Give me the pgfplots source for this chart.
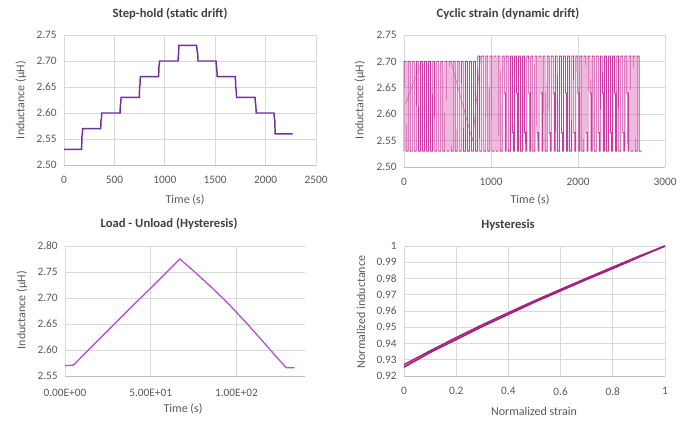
\documentclass[border=0pt]{standalone}
\usepackage{pgfplots}
\pgfplotsset{compat=1.18}
\usepackage{fontspec}
\setmainfont{Carlito}
\definecolor{stepc}{HTML}{7030A0}
\definecolor{cycc}{HTML}{CC3AA0}
\definecolor{loadc}{HTML}{B455D2}
\definecolor{hystc}{HTML}{A3217F}
\definecolor{gridc}{HTML}{D9D9D9}
\definecolor{axc}{HTML}{BFBFBF}
\definecolor{txt}{HTML}{595959}
\definecolor{ttl}{HTML}{404040}
\pgfplotsset{
  xlpanel/.style={
    scale only axis,
    anchor=south west,
    axis line style={draw=none},
    grid=major,
    grid style={gridc, line width=0.5pt},
    major tick length=0pt,
    tick label style={font=\fontsize{8.5}{10}\selectfont, text=txt},
    yticklabel style={xshift=-2pt},
    xticklabel style={yshift=-5pt},
    /pgf/number format/assume math mode=true,
    /pgf/number format/1000 sep={},
    clip=false,
  },
}
\begin{document}
\begin{tikzpicture}[x=1pt,y=1pt]
\useasboundingbox (0,0) rectangle (516.75,-318);
% ---------- Step-hold
\begin{axis}[xlpanel, at={(48pt,-123.75pt)}, width=189pt, height=97.5pt,
  xmin=0, xmax=2500, ymin=2.5, ymax=2.75,
  xtick={0,500,1000,1500,2000,2500},
  ytick={2.50,2.55,2.60,2.65,2.70,2.75},
  yticklabels={2.50,2.55,2.60,2.65,2.70,2.75}]
\draw[axc] (rel axis cs:0,0) -- (rel axis cs:1,0);
\addplot[stepc, line width=1.1pt, no marks] coordinates {
(0,2.530)(175,2.530)(178,2.555)(182,2.560)(185,2.570)(364,2.570)(367,2.585)(372,2.590)(375,2.600)
(556,2.600)(559,2.615)(563,2.620)(566,2.630)(747,2.630)(750,2.650)(754,2.655)(757,2.670)
(939,2.670)(942,2.690)(946,2.695)(949,2.700)(1131,2.700)(1134,2.710)(1137,2.715)(1140,2.730)
(1316,2.730)(1320,2.720)(1326,2.715)(1330,2.700)(1508,2.700)(1512,2.690)(1516,2.685)(1520,2.670)
(1700,2.670)(1704,2.650)(1708,2.645)(1712,2.630)(1895,2.630)(1899,2.620)(1903,2.615)(1907,2.600)
(2083,2.600)(2087,2.590)(2091,2.585)(2095,2.560)(2268,2.560)};
\end{axis}
% ---------- Cyclic strain
\begin{axis}[xlpanel, at={(303pt,-125.25pt)}, width=195.75pt, height=99pt,
  xmin=0, xmax=3000, ymin=2.5, ymax=2.75,
  xtick={0,1000,2000,3000},
  ytick={2.50,2.55,2.60,2.65,2.70,2.75},
  yticklabels={2.50,2.55,2.60,2.65,2.70,2.75}]
\draw[axc] (rel axis cs:0,0) -- (rel axis cs:1,0);
\addplot[cycc, line width=0.65pt, no marks] coordinates {
(0,2.53)(1,2.70)(23,2.70)(24,2.53)
(47,2.53)(48,2.70)(70,2.70)(71,2.53)
(94,2.53)(95,2.70)(117,2.70)(118,2.53)
(141,2.53)(142,2.70)(164,2.70)(165,2.53)
(188,2.53)(189,2.70)(211,2.70)(212,2.53)
(235,2.53)(236,2.70)(258,2.70)(259,2.53)
(282,2.53)(283,2.70)(305,2.70)(306,2.53)
(329,2.53)(330,2.70)(352,2.70)(353,2.53)
(376,2.53)(377,2.70)(399,2.70)(400,2.53)
(423,2.53)(424,2.70)(446,2.70)(447,2.53)
(470,2.53)(471,2.70)(493,2.70)(494,2.53)
(517,2.53)(518,2.70)(540,2.70)(541,2.53)
(564,2.53)(565,2.70)(587,2.70)(588,2.53)
(611,2.53)(612,2.70)(634,2.70)(635,2.53)
(658,2.53)(659,2.70)(681,2.70)(682,2.53)
(705,2.53)(706,2.70)(728,2.70)(729,2.53)
(752,2.53)(753,2.70)(775,2.70)(776,2.53)
(799,2.53)(800,2.70)(822,2.70)(823,2.53)
(846,2.53)(847,2.71)(869,2.71)(870,2.53)
(893,2.53)(894,2.71)(916,2.71)(917,2.53)
(940,2.53)(941,2.71)(963,2.71)(964,2.53)
(987,2.53)(988,2.71)(1010,2.71)(1011,2.53)
(1034,2.53)(1035,2.71)(1057,2.71)(1058,2.53)
(1081,2.53)(1082,2.71)(1104,2.71)(1105,2.53)
(1128,2.53)(1129,2.71)(1151,2.71)(1152,2.64)(1163,2.64)(1164,2.53)
(1175,2.53)(1176,2.71)(1198,2.71)(1199,2.53)
(1222,2.53)(1223,2.71)(1245,2.71)(1246,2.565)(1257,2.565)(1258,2.53)
(1269,2.53)(1270,2.71)(1292,2.71)(1293,2.64)(1304,2.64)(1305,2.53)
(1316,2.53)(1317,2.71)(1339,2.71)(1340,2.53)
(1363,2.53)(1364,2.71)(1386,2.71)(1387,2.565)(1398,2.565)(1399,2.53)
(1410,2.53)(1411,2.71)(1433,2.71)(1434,2.64)(1445,2.64)(1446,2.53)
(1457,2.53)(1458,2.71)(1480,2.71)(1481,2.53)
(1504,2.53)(1505,2.71)(1527,2.71)(1528,2.565)(1539,2.565)(1540,2.53)
(1551,2.53)(1552,2.71)(1574,2.71)(1575,2.64)(1586,2.64)(1587,2.53)
(1598,2.53)(1599,2.71)(1621,2.71)(1622,2.53)
(1645,2.53)(1646,2.71)(1668,2.71)(1669,2.565)(1680,2.565)(1681,2.53)
(1692,2.53)(1693,2.71)(1715,2.71)(1716,2.64)(1727,2.64)(1728,2.53)
(1739,2.53)(1740,2.71)(1762,2.71)(1763,2.53)
(1786,2.53)(1787,2.71)(1809,2.71)(1810,2.565)(1821,2.565)(1822,2.53)
(1833,2.53)(1834,2.71)(1856,2.71)(1857,2.64)(1868,2.64)(1869,2.53)
(1880,2.53)(1881,2.71)(1903,2.71)(1904,2.53)
(1927,2.53)(1928,2.71)(1950,2.71)(1951,2.565)(1962,2.565)(1963,2.53)
(1974,2.53)(1975,2.71)(1997,2.71)(1998,2.64)(2009,2.64)(2010,2.53)
(2021,2.53)(2022,2.71)(2044,2.71)(2045,2.53)
(2068,2.53)(2069,2.71)(2091,2.71)(2092,2.565)(2103,2.565)(2104,2.53)
(2115,2.53)(2116,2.71)(2138,2.71)(2139,2.64)(2150,2.64)(2151,2.53)
(2162,2.53)(2163,2.71)(2185,2.71)(2186,2.53)
(2209,2.53)(2210,2.71)(2232,2.71)(2233,2.565)(2244,2.565)(2245,2.53)
(2256,2.53)(2257,2.71)(2279,2.71)(2280,2.64)(2291,2.64)(2292,2.53)
(2303,2.53)(2304,2.71)(2326,2.71)(2327,2.53)
(2350,2.53)(2351,2.71)(2373,2.71)(2374,2.565)(2385,2.565)(2386,2.53)
(2397,2.53)(2398,2.71)(2420,2.71)(2421,2.64)(2432,2.64)(2433,2.53)
(2444,2.53)(2445,2.71)(2467,2.71)(2468,2.53)
(2491,2.53)(2492,2.71)(2514,2.71)(2515,2.565)(2526,2.565)(2527,2.53)
(2538,2.53)(2539,2.71)(2561,2.71)(2562,2.64)(2573,2.64)(2574,2.53)
(2585,2.53)(2586,2.71)(2608,2.71)(2609,2.53)
(2632,2.53)(2633,2.71)(2655,2.71)(2656,2.53)
(2679,2.53)(2680,2.71)(2702,2.71)(2703,2.53)
(2730,2.53)};
\addplot[cycc, line width=0.5pt, opacity=0.6, no marks] coordinates {(20,2.62)(200,2.70)};
\addplot[cycc, line width=0.5pt, opacity=0.6, no marks] coordinates {(540,2.70)(770,2.56)(790,2.55)(880,2.71)};
\end{axis}
% ---------- Load - Unload
\begin{axis}[xlpanel, at={(48.75pt,-282pt)}, width=180pt, height=97.5pt,
  xticklabel style={yshift=-1.5pt},
  xmin=0, xmax=140, ymin=2.55, ymax=2.8,
  xtick={0,50,100},
  xticklabels={0.00E+00,5.00E+01,1.00E+02},
  ytick={2.55,2.60,2.65,2.70,2.75,2.80},
  yticklabels={2.55,2.60,2.65,2.70,2.75,2.80}]
\draw[axc] (rel axis cs:0,0) -- (rel axis cs:1,0);
\addplot[loadc, line width=1pt, no marks] coordinates {
(0,2.570)(5,2.571)(10,2.588)(20,2.621)(30,2.654)(40,2.687)(50,2.719)(60,2.752)(67,2.775)
(75,2.752)(85,2.722)(95,2.690)(105,2.655)(115,2.618)(123,2.588)(129,2.566)(134,2.566)};
\end{axis}
% ---------- Hysteresis
\begin{axis}[xlpanel, at={(303pt,-282pt)}, width=195.75pt, height=97.5pt,
  xmin=0, xmax=1, ymin=0.92, ymax=1,
  xtick={0,0.2,0.4,0.6,0.8,1},
  xticklabels={0,0.2,0.4,0.6,0.8,1},
  ytick={0.92,0.93,0.94,0.95,0.96,0.97,0.98,0.99,1},
  yticklabels={0.92,0.93,0.94,0.95,0.96,0.97,0.98,0.99,1}]
\draw[axc] (rel axis cs:0,0) -- (rel axis cs:1,0);
\addplot[hystc, line width=1.3pt, no marks] coordinates {
(0,0.9255)(0.1,0.9345)(0.2,0.9425)(0.3,0.9505)(0.4,0.9580)(0.5,0.9655)(0.6,0.9725)(0.7,0.9795)(0.8,0.9862)(0.9,0.9932)(1,1.0)};
\addplot[hystc, line width=1.1pt, no marks] coordinates {
(0,0.9270)(0.1,0.9355)(0.2,0.9437)(0.3,0.9515)(0.4,0.9590)(0.5,0.9663)(0.6,0.9733)(0.7,0.9802)(0.8,0.9870)(0.9,0.9937)(1,1.0)};
\end{axis}
% ---------- titles and labels
\begin{scope}[font=\fontsize{9.5}{11}\selectfont\bfseries, text=ttl]
\node at (127.5,-10) {Step-hold (static drift)};
\node at (381,-10) {Cyclic strain (dynamic drift)};
\node at (126.75,-168) {Load - Unload (Hysteresis)};
\node at (381,-168.75) {Hysteresis};
\end{scope}
\begin{scope}[font=\fontsize{9}{11}\selectfont, text=txt]
\node at (138.75,-150) {Time (s)};
\node at (397.5,-150) {Time (s)};
\node at (137.25,-306.75) {Time (s)};
\node at (400.5,-308.25) {Normalized strain};
\node[rotate=90] at (15.75,-75) {Inductance (µH)};
\node[rotate=90] at (270,-75) {Inductance (µH)};
\node[rotate=90] at (16.5,-232.5) {Inductance (µH)};
\node[rotate=90] at (270.75,-234) {Normalized inductance};
\end{scope}
\end{tikzpicture}
\end{document}
